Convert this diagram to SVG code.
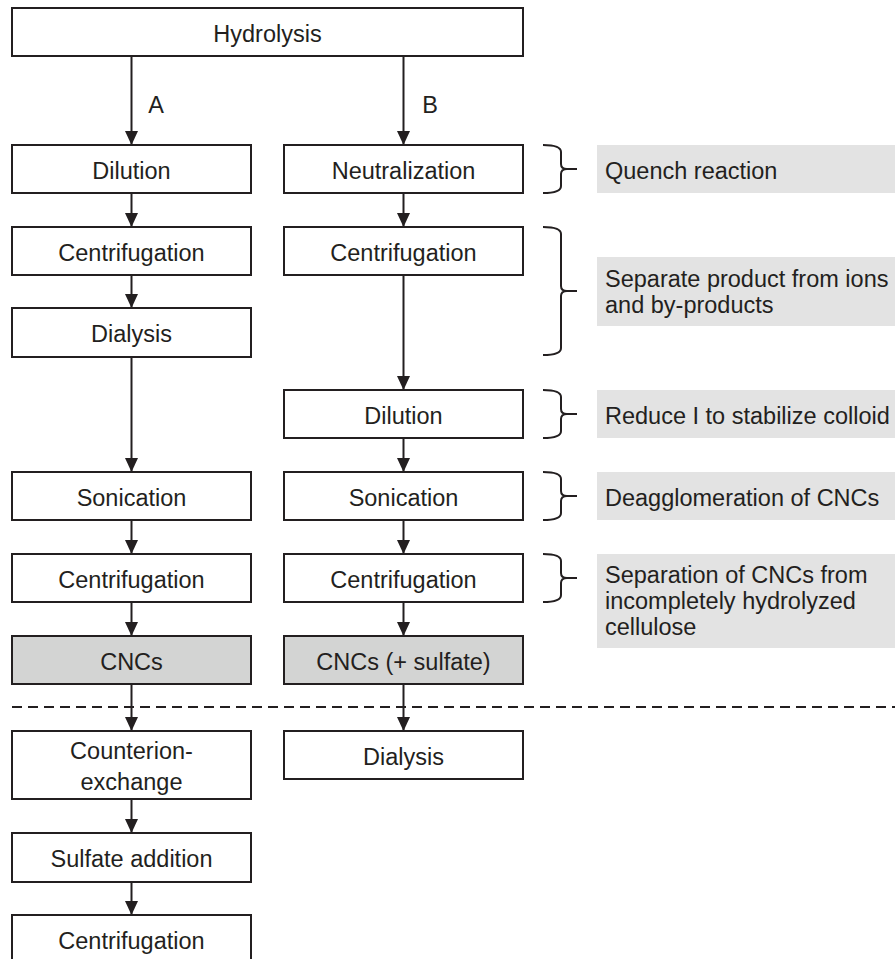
<svg xmlns="http://www.w3.org/2000/svg" width="895" height="959" viewBox="0 0 895 959">
<defs>
<style>
.box{fill:#ffffff;stroke:#231f20;stroke-width:2}
.prod{fill:#d3d4d3;stroke:#231f20;stroke-width:2}
.note{fill:#e3e3e3;stroke:none}
.t{font-family:"Liberation Sans",Arial,sans-serif;font-size:23.5px;fill:#231f20}
.c{text-anchor:middle}
.arr{stroke:#231f20;stroke-width:2;fill:none;marker-end:url(#ah)}
.br{stroke:#231f20;stroke-width:2;fill:none}
.dash{stroke:#231f20;stroke-width:2;stroke-dasharray:10 6;fill:none}
</style>
<marker id="ah" markerUnits="userSpaceOnUse" markerWidth="14" markerHeight="13" viewBox="0 0 14 13" refX="14" refY="6.5" orient="auto">
<path d="M0,0 L14,6.5 L0,13 Z" fill="#231f20"/>
</marker>
</defs>

<g id="connectors">
<line class="dash" x1="12" y1="707" x2="895" y2="707"/>
<line class="arr" x1="131.5" y1="56" x2="131.5" y2="145"/>
<line class="arr" x1="403.5" y1="56" x2="403.5" y2="145"/>
<line class="arr" x1="131.5" y1="193" x2="131.5" y2="227"/>
<line class="arr" x1="131.5" y1="275" x2="131.5" y2="308"/>
<line class="arr" x1="131.5" y1="357" x2="131.5" y2="472"/>
<line class="arr" x1="131.5" y1="520" x2="131.5" y2="554"/>
<line class="arr" x1="131.5" y1="602" x2="131.5" y2="636"/>
<line class="arr" x1="131.5" y1="684" x2="131.5" y2="731"/>
<line class="arr" x1="131.5" y1="799" x2="131.5" y2="833"/>
<line class="arr" x1="131.5" y1="882" x2="131.5" y2="915"/>
<line class="arr" x1="403.5" y1="193" x2="403.5" y2="227"/>
<line class="arr" x1="403.5" y1="275" x2="403.5" y2="390"/>
<line class="arr" x1="403.5" y1="438" x2="403.5" y2="472"/>
<line class="arr" x1="403.5" y1="520" x2="403.5" y2="554"/>
<line class="arr" x1="403.5" y1="602" x2="403.5" y2="636"/>
<line class="arr" x1="403.5" y1="684" x2="403.5" y2="731"/>
</g>

<g id="nodes">
<g id="hydrolysis"><rect class="box" x="12" y="8" width="511" height="48"/><text class="t c" x="267.5" y="42">Hydrolysis</text></g>
<g id="a-dilution"><rect class="box" x="12" y="145" width="239" height="48"/><text class="t c" x="131.5" y="179">Dilution</text></g>
<g id="a-centrifugation1"><rect class="box" x="12" y="227" width="239" height="48"/><text class="t c" x="131.5" y="261">Centrifugation</text></g>
<g id="a-dialysis"><rect class="box" x="12" y="308" width="239" height="49"/><text class="t c" x="131.5" y="342">Dialysis</text></g>
<g id="a-sonication"><rect class="box" x="12" y="472" width="239" height="48"/><text class="t c" x="131.5" y="506">Sonication</text></g>
<g id="a-centrifugation2"><rect class="box" x="12" y="554" width="239" height="48"/><text class="t c" x="131.5" y="588">Centrifugation</text></g>
<g id="a-cncs"><rect class="prod" x="12" y="636" width="239" height="48"/><text class="t c" x="131.5" y="670">CNCs</text></g>
<g id="a-counterion"><rect class="box" x="12" y="731" width="239" height="68"/><text class="t c" x="131.5" y="759">Counterion-</text><text class="t c" x="131.5" y="790">exchange</text></g>
<g id="a-sulfate"><rect class="box" x="12" y="833" width="239" height="49"/><text class="t c" x="131.5" y="867">Sulfate addition</text></g>
<g id="a-centrifugation3"><rect class="box" x="12" y="915" width="239" height="48"/><text class="t c" x="131.5" y="949">Centrifugation</text></g>

<g id="b-neutralization"><rect class="box" x="284" y="145" width="239" height="48"/><text class="t c" x="403.5" y="179">Neutralization</text></g>
<g id="b-centrifugation1"><rect class="box" x="284" y="227" width="239" height="48"/><text class="t c" x="403.5" y="261">Centrifugation</text></g>
<g id="b-dilution"><rect class="box" x="284" y="390" width="239" height="48"/><text class="t c" x="403.5" y="424">Dilution</text></g>
<g id="b-sonication"><rect class="box" x="284" y="472" width="239" height="48"/><text class="t c" x="403.5" y="506">Sonication</text></g>
<g id="b-centrifugation2"><rect class="box" x="284" y="554" width="239" height="48"/><text class="t c" x="403.5" y="588">Centrifugation</text></g>
<g id="b-cncs"><rect class="prod" x="284" y="636" width="239" height="48"/><text class="t c" x="403.5" y="670">CNCs (+ sulfate)</text></g>
<g id="b-dialysis"><rect class="box" x="284" y="731" width="239" height="48"/><text class="t c" x="403.5" y="765">Dialysis</text></g>
</g>

<g id="labels">
<text class="t c" x="156" y="113">A</text>
<text class="t c" x="430" y="113">B</text>
</g>

<g id="brackets">
<path class="br" d="M543,145 Q561,145 561,152 V164 Q561,169 567,169 H577 M567,169 Q561,169 561,174 V186 Q561,193 543,193"/>
<path class="br" d="M543,227 Q561,227 561,234 V286 Q561,291 567,291 H577 M567,291 Q561,291 561,296 V348 Q561,355 543,355"/>
<path class="br" d="M543,390 Q561,390 561,397 V409 Q561,414 567,414 H577 M567,414 Q561,414 561,419 V431 Q561,438 543,438"/>
<path class="br" d="M543,472 Q561,472 561,479 V491 Q561,496 567,496 H577 M567,496 Q561,496 561,501 V513 Q561,520 543,520"/>
<path class="br" d="M543,554 Q561,554 561,561 V573 Q561,578 567,578 H577 M567,578 Q561,578 561,583 V595 Q561,602 543,602"/>
</g>

<g id="notes">
<g id="note-quench"><rect class="note" x="597" y="145" width="298" height="48"/><text class="t" x="605" y="179">Quench reaction</text></g>
<g id="note-separate"><rect class="note" x="597" y="257" width="298" height="69"/><text class="t" x="605" y="287">Separate product from ions</text><text class="t" x="605" y="313">and by-products</text></g>
<g id="note-reduce"><rect class="note" x="597" y="390" width="298" height="48"/><text class="t" x="605" y="424">Reduce I to stabilize colloid</text></g>
<g id="note-deagg"><rect class="note" x="597" y="472" width="298" height="48"/><text class="t" x="605" y="506">Deagglomeration of CNCs</text></g>
<g id="note-separation"><rect class="note" x="597" y="554" width="298" height="94"/><text class="t" x="605" y="583">Separation of CNCs from</text><text class="t" x="605" y="609">incompletely hydrolyzed</text><text class="t" x="605" y="635">cellulose</text></g>
</g>
</svg>
